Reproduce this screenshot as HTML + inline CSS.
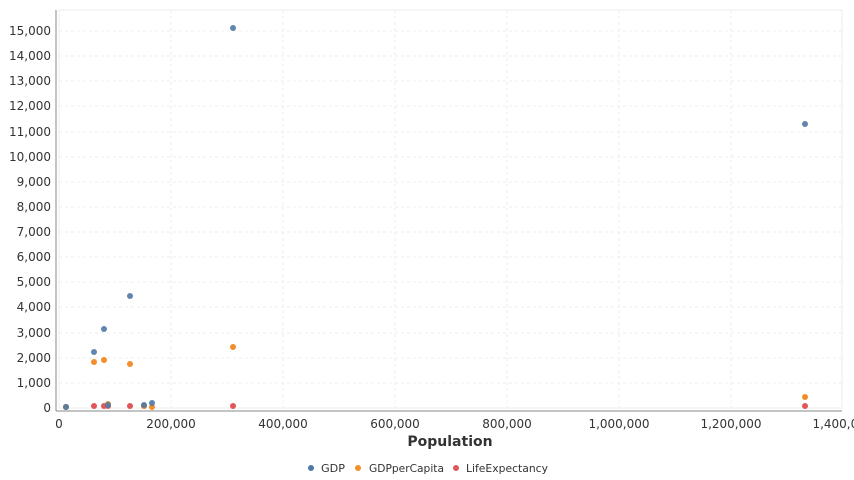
<!DOCTYPE html>
<html><head><style>body{margin:0;background:#fff;}svg{display:block;font-family:"DejaVu Sans","Liberation Sans",sans-serif;}</style></head>
<body>
<svg width="854" height="480" xmlns="http://www.w3.org/2000/svg">
<rect x="59" y="10" width="783" height="398" fill="none" stroke="#ececec"/>
<g stroke="#eeeeee" stroke-dasharray="3,3">
<line x1="59" x2="842" y1="383" y2="383"/><line x1="59" x2="842" y1="358" y2="358"/><line x1="59" x2="842" y1="333" y2="333"/><line x1="59" x2="842" y1="307" y2="307"/><line x1="59" x2="842" y1="282" y2="282"/><line x1="59" x2="842" y1="257" y2="257"/><line x1="59" x2="842" y1="232" y2="232"/><line x1="59" x2="842" y1="207" y2="207"/><line x1="59" x2="842" y1="182" y2="182"/><line x1="59" x2="842" y1="157" y2="157"/><line x1="59" x2="842" y1="132" y2="132"/><line x1="59" x2="842" y1="106" y2="106"/><line x1="59" x2="842" y1="81" y2="81"/><line x1="59" x2="842" y1="56" y2="56"/><line x1="59" x2="842" y1="31" y2="31"/>
<line y1="10" y2="408" x1="171" x2="171"/><line y1="10" y2="408" x1="283" x2="283"/><line y1="10" y2="408" x1="395" x2="395"/><line y1="10" y2="408" x1="507" x2="507"/><line y1="10" y2="408" x1="619" x2="619"/><line y1="10" y2="408" x1="731" x2="731"/>
</g>
<line x1="56" y1="10" x2="56" y2="411" stroke="#888"/>
<line x1="56" y1="411" x2="842" y2="411" stroke="#888"/>
<g font-size="12" fill="#333" text-anchor="end">
<text x="51" y="412">0</text><text x="51" y="387">1,000</text><text x="51" y="362">2,000</text><text x="51" y="337">3,000</text><text x="51" y="311">4,000</text><text x="51" y="286">5,000</text><text x="51" y="261">6,000</text><text x="51" y="236">7,000</text><text x="51" y="211">8,000</text><text x="51" y="186">9,000</text><text x="51" y="161">10,000</text><text x="51" y="136">11,000</text><text x="51" y="110">12,000</text><text x="51" y="85">13,000</text><text x="51" y="60">14,000</text><text x="51" y="35">15,000</text>
</g>
<g font-size="12" fill="#333" text-anchor="middle">
<text x="59" y="428">0</text><text x="171" y="428">200,000</text><text x="283" y="428">400,000</text><text x="395" y="428">600,000</text><text x="507" y="428">800,000</text><text x="619" y="428">1,000,000</text><text x="731" y="428">1,200,000</text><text x="843" y="428">1,400,000</text>
</g>
<text x="450" y="446" font-size="14" font-weight="bold" fill="#333" text-anchor="middle">Population</text>
<g fill="#e15759">
<circle cx="66" cy="407" r="3"/><circle cx="94" cy="406" r="3"/><circle cx="104" cy="406" r="3"/><circle cx="108" cy="406" r="3"/><circle cx="130" cy="406" r="3"/><circle cx="144" cy="406" r="3"/><circle cx="233" cy="406" r="3"/><circle cx="805" cy="406" r="3"/>
</g>
<g fill="#f28e2b">
<circle cx="66" cy="407" r="3"/><circle cx="94" cy="362" r="3"/><circle cx="104" cy="360" r="3"/><circle cx="108" cy="404" r="3"/><circle cx="130" cy="364" r="3"/><circle cx="144" cy="406" r="3"/><circle cx="152" cy="407" r="3"/><circle cx="233" cy="347" r="3"/><circle cx="805" cy="397" r="3"/>
</g>
<g fill="#4e79a7" opacity="0.9">
<circle cx="66" cy="407" r="3"/><circle cx="94" cy="352" r="3"/><circle cx="104" cy="329" r="3"/><circle cx="108" cy="405" r="3"/><circle cx="130" cy="296" r="3"/><circle cx="144" cy="405" r="3"/><circle cx="152" cy="403" r="3"/><circle cx="233" cy="28" r="3"/><circle cx="805" cy="124" r="3"/>
</g>
<g font-size="11" fill="#333">
<circle cx="311" cy="468" r="3" fill="#4e79a7"/><text x="321" y="472" textLength="24" lengthAdjust="spacingAndGlyphs">GDP</text>
<circle cx="358" cy="468" r="3" fill="#f28e2b"/><text x="369" y="472" textLength="75" lengthAdjust="spacingAndGlyphs">GDPperCapita</text>
<circle cx="456" cy="468" r="3" fill="#e15759"/><text x="466" y="472" textLength="82" lengthAdjust="spacingAndGlyphs">LifeExpectancy</text>
</g>
</svg>
</body></html>
